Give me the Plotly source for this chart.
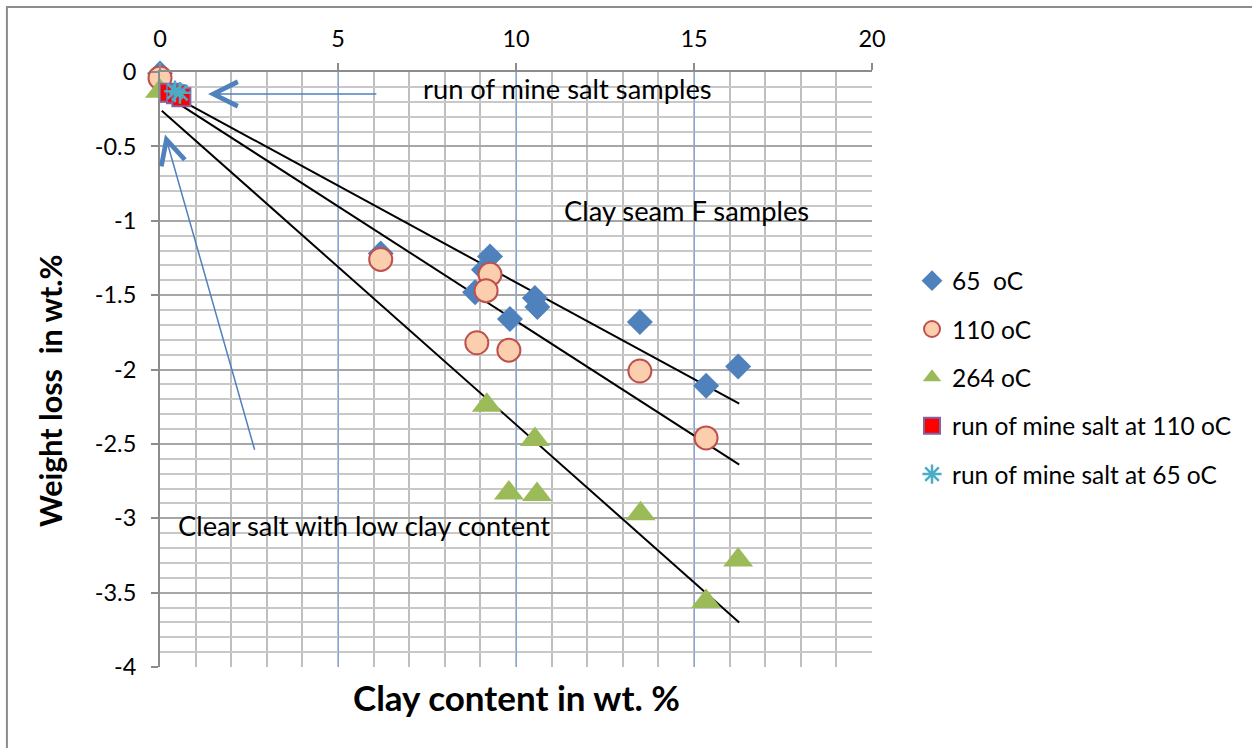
import plotly.graph_objects as go

# Clay content (wt.%) and weight loss (wt.%) per drying temperature
clay_65 = [0, 6.2, 9.27, 9.1, 8.85, 10.53, 10.6, 9.83, 13.48, 15.34, 16.24]
loss_65 = [-0.01, -1.22, -1.24, -1.33, -1.48, -1.52, -1.58, -1.66, -1.68, -2.11, -1.98]

clay_110 = [0, 6.2, 9.27, 9.16, 8.9, 9.8, 13.48, 15.34]
loss_110 = [-0.04, -1.26, -1.36, -1.47, -1.82, -1.87, -2.01, -2.46]

clay_264 = [0, 9.18, 10.53, 9.8, 10.59, 13.5, 16.24, 15.34]
loss_264 = [-0.13, -2.24, -2.47, -2.83, -2.84, -2.97, -3.28, -3.56]

# Run of mine salt samples
rom_clay_110 = [0.25, 0.45, 0.6]
rom_loss_110 = [-0.14, -0.15, -0.17]
rom_clay_65 = [0.42, 0.56]
rom_loss_65 = [-0.13, -0.14]

# Linear trend lines (start / end)
trend_x = [0.05, 16.27]
trend_65 = [-0.12, -2.23]
trend_110 = [-0.14, -2.64]
trend_264 = [-0.26, -3.70]

# Axis ticks
x_ticks = [0, 5, 10, 15, 20]
y_ticks = [0, -0.5, -1, -1.5, -2, -2.5, -3, -3.5, -4]
y_tick_labels = ["0", "-0.5", "-1", "-1.5", "-2", "-2.5", "-3", "-3.5", "-4"]

FONT = "Lato"

fig = go.Figure()

for ty in (trend_65, trend_110, trend_264):
    fig.add_trace(go.Scatter(x=trend_x, y=ty, mode="lines",
                             line=dict(color="black", width=2),
                             showlegend=False, hoverinfo="skip"))

fig.add_trace(go.Scatter(
    x=clay_65, y=loss_65, mode="markers", name="65  oC", legendgroup="a",
    marker=dict(symbol="diamond", size=20, color="#4F81BD",
                line=dict(width=0)), cliponaxis=False))
fig.add_trace(go.Scatter(
    x=clay_110, y=loss_110, mode="markers", name="110 oC", legendgroup="b",
    marker=dict(symbol="circle", size=23, color="#FBCFAE",
                line=dict(width=2, color="#C0504D")), cliponaxis=False))
fig.add_trace(go.Scatter(
    x=clay_264, y=loss_264, mode="markers", name="264 oC", legendgroup="c",
    marker=dict(symbol="triangle-up", size=26, color="#9BBB59",
                line=dict(width=0)), cliponaxis=False))
fig.add_trace(go.Scatter(
    x=rom_clay_110, y=rom_loss_110, mode="markers",
    name="run of mine salt at 110 oC", legendgroup="d",
    marker=dict(symbol="square", size=18, color="#FF0000",
                line=dict(width=2, color="#8064A2")), cliponaxis=False))
fig.add_trace(go.Scatter(
    x=rom_clay_65, y=rom_loss_65, mode="markers",
    name="run of mine salt at 65 oC", legendgroup="e",
    marker=dict(symbol="asterisk-open", size=18, color="#4BACC6",
                line=dict(width=2.5, color="#4BACC6")), cliponaxis=False))

arrow_blue = "#4F81BD"
label_font = dict(family=FONT, size=27.3, color="black")
annotations = [
    # arrows pointing at the run of mine salt cluster
    dict(x=1.35, y=-0.148, ax=6.12, ay=-0.148, xref="x", yref="y",
         axref="x", ayref="y", showarrow=True, arrowhead=5, arrowsize=3.2,
         arrowwidth=1.5, arrowcolor=arrow_blue, text=""),
    dict(x=0.14, y=-0.42, ax=2.67, ay=-2.55, xref="x", yref="y",
         axref="x", ayref="y", showarrow=True, arrowhead=5, arrowsize=3.2,
         arrowwidth=1.5, arrowcolor=arrow_blue, text=""),
    dict(x=11.45, y=-0.114, xref="x", yref="y", showarrow=False,
         text="run of mine salt samples", font=label_font),
    dict(x=14.79, y=-0.928, xref="x", yref="y", showarrow=False,
         text="Clay seam F samples", font=label_font),
    dict(x=5.73, y=-3.05, xref="x", yref="y", showarrow=False,
         text="Clear salt with low clay content", font=label_font),
    # axis titles
    dict(x=0.5, y=-0.0504, xref="paper", yref="paper", showarrow=False,
         xanchor="center", yanchor="middle",
         text="<b>Clay content in wt. %</b>",
         font=dict(family=FONT, size=35, color="black")),
    dict(x=-0.1545, y=0.4655, xref="paper", yref="paper", showarrow=False,
         xanchor="center", yanchor="middle",
         text="<b>Weight loss \u00a0in wt.%</b>", textangle=-90,
         font=dict(family=FONT, size=30.5, color="black")),
]

fig.update_layout(
    width=1252, height=748,
    margin=dict(l=160, r=380, t=72, b=81),
    paper_bgcolor="white", plot_bgcolor="white",
    font=dict(family=FONT, color="black"),
    annotations=annotations,
    legend=dict(x=1.0562, y=0.687, xanchor="left", yanchor="top",
                font=dict(family=FONT, size=24.5, color="black"),
                tracegroupgap=13.5, bgcolor="rgba(0,0,0,0)"),
    shapes=[dict(type="rect", xref="paper", yref="paper",
                 x0=-0.215, x1=1.6, y0=-0.2, y1=1.1093,
                 line=dict(color="#8C8C8C", width=2), layer="below")],
)

fig.update_xaxes(
    range=[0, 20], side="top", tickmode="array", tickvals=x_ticks,
    showgrid=True, gridcolor="#7EA6E0", gridwidth=1,
    minor=dict(dtick=1, tick0=0, ticks="", showgrid=True,
               gridcolor="#BFBFBF", gridwidth=2),
    showline=True, linecolor="#8C8C8C", linewidth=2,
    ticks="outside", ticklen=7, tickcolor="#8C8C8C", tickwidth=2,
    ticklabelstandoff=7,
    tickfont=dict(family=FONT, size=23.5, color="black"),
    zeroline=False, fixedrange=True,
)
fig.update_yaxes(
    range=[-4, 0], tickmode="array", tickvals=y_ticks, ticktext=y_tick_labels,
    showgrid=True, gridcolor="#A6A6A6", gridwidth=2,
    minor=dict(dtick=0.1, tick0=0, ticks="", showgrid=True,
               gridcolor="#C8C8C8", gridwidth=2),
    showline=True, linecolor="#8C8C8C", linewidth=2,
    ticks="outside", ticklen=7, tickcolor="#8C8C8C", tickwidth=2,
    ticklabelstandoff=10,
    tickfont=dict(family=FONT, size=23.5, color="black"),
    zeroline=False, fixedrange=True,
)

fig.write_html("out.html")
